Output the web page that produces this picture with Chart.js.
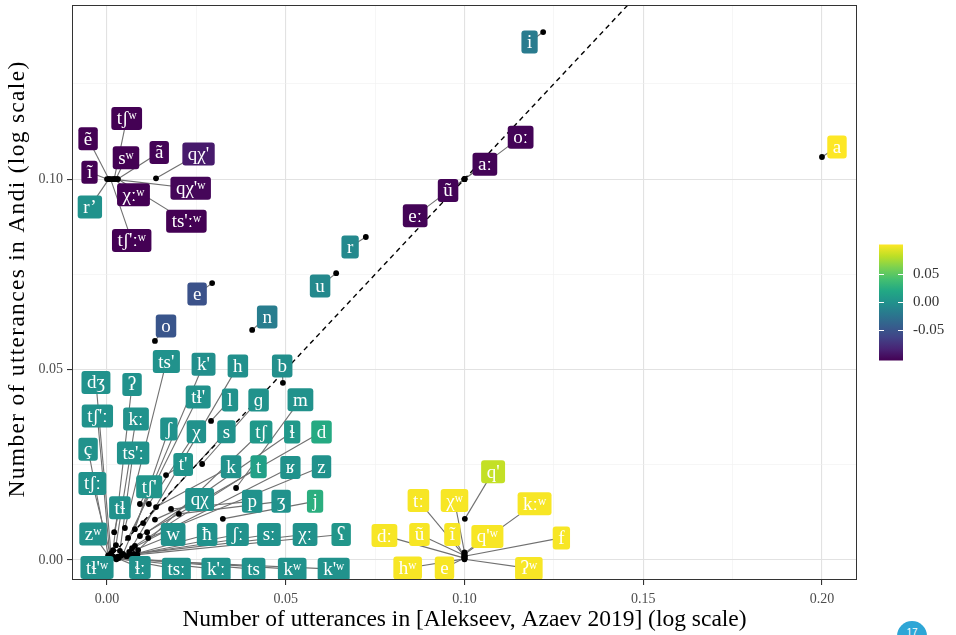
<!DOCTYPE html>
<html>
<head>
<meta charset="utf-8">
<script src="https://cdn.jsdelivr.net/npm/chart.js@4.4.0/dist/chart.umd.min.js"></script>
<style>
  html, body { margin: 0; padding: 0; background: #fff; overflow: hidden; }
  #wrap { position: relative; width: 956px; height: 635px; overflow: hidden; }
  #badge { position: absolute; left: 897px; top: 621px; width: 30px; height: 30px; border-radius: 50%;
           background: #2ea6d6; color: #fff; font: 10px 'Liberation Sans', sans-serif; text-align: center; line-height: 24px; }
</style>
</head>
<body>
<div id="wrap">
  <canvas id="c" width="956" height="635"></canvas>
  <div id="badge">17</div>
</div>
<script>
// Phone labels
const phones = [
  'tʃʷ', 'ẽ', 'sʷ', 'ã', "qχ'", 'ĩ', "qχ'ʷ", 'χːʷ', 'r’', "ts'ːʷ", "tʃ'ːʷ",
  'oː', 'aː', 'ũ', 'eː', 'i', 'a', 'r', 'u', 'e', 'n', 'o',
  "q'", 'tː', 'χʷ', 'kːʷ', 'dː', 'ũ', 'ĩ', "q'ʷ", 'f', 'hʷ', 'e', 'ʔʷ',
  "ts'", "k'", 'h', 'b', "tɬ'", 'l', 'ɡ', 'm', 'ʃ', 'χ', 's', 'tʃ', 'ɬ', 'd',
  "t'", 'k', 't', 'ʁ', 'z', 'qχ', 'p', 'ʒ', 'j', 'w', 'ħ', 'ʃː', 'sː', 'χː', 'ʕ',
  'tsː', "k'ː", 'ts', 'kʷ', "k'ʷ", 'dʒ', 'ʔ', "tʃ'ː", 'kː', 'ç', "ts'ː", 'tʃː',
  "tʃ'", 'tɬ', 'zʷ', "tɬ'ʷ", 'ɬː'
];

// Share of utterances in [Alekseev, Azaev 2019]
const corpusFreq = [
  0.0020, 0.0005, 0.0025, 0.0030, 0.0137, 0.0000, 0.0015, 0.0020, 0.0005, 0.0030, 0.0010,
  0.1000, 0.1000, 0.1000, 0.1000, 0.1220, 0.2000, 0.0724, 0.0641, 0.0294, 0.0406, 0.0134,
  0.1001, 0.1000, 0.1000, 0.1000, 0.1000, 0.1000, 0.1000, 0.1000, 0.1000, 0.1000, 0.1000, 0.1000,
  0.0050, 0.0045, 0.0062, 0.0492, 0.0059, 0.0291, 0.0266, 0.0361, 0.0078, 0.0117, 0.0101, 0.0087, 0.0112, 0.0092,
  0.0165, 0.0137, 0.0078, 0.0070, 0.0115, 0.0134, 0.0179, 0.0201, 0.0324, 0.0040, 0.0055, 0.0065, 0.0030, 0.0075, 0.0085,
  0.0022, 0.0028, 0.0018, 0.0033, 0.0026, 0.0011, 0.0017, 0.0008, 0.0025, 0.0005, 0.0036, 0.0012,
  0.0092, 0.0020, 0.0003, 0.0002, 0.0015
];

// Share of utterances in Andi
const andiFreq = [
  0.1000, 0.1000, 0.1000, 0.1000, 0.1002, 0.1000, 0.1000, 0.1000, 0.1000, 0.1000, 0.1000,
  0.1000, 0.1000, 0.1000, 0.1000, 0.1386, 0.1058, 0.0848, 0.0753, 0.0727, 0.0604, 0.0575,
  0.0108, 0.0010, 0.0020, 0.0015, 0.0005, 0.0012, 0.0008, 0.0018, 0.0010, 0.0003, 0.0005, 0.0002,
  0.0084, 0.0016, 0.0021, 0.0465, 0.0058, 0.0365, 0.0252, 0.0189, 0.0081, 0.0147, 0.0097, 0.0026, 0.0073, 0.0063,
  0.0223, 0.0139, 0.0037, 0.0031, 0.0058, 0.0106, 0.0134, 0.0121, 0.0108, 0.0012, 0.0010, 0.0013, 0.0009, 0.0016, 0.0014,
  0.0006, 0.0004, 0.0008, 0.0005, 0.0002, 0.0018, 0.0026, 0.0008, 0.0039, 0.0005, 0.0024, 0.0004,
  0.0147, 0.0073, 0.0012, 0.0002, 0.0010
];

// Difference value mapped to the colour scale
const colourValue = [
  -0.105, -0.105, -0.105, -0.104, -0.090, -0.105, -0.102, -0.105, 0.000, -0.105, -0.105,
  -0.103, -0.103, -0.103, -0.103, -0.019, 0.104, -0.007, -0.007, -0.052, -0.017, -0.050,
  0.085, 0.102, 0.102, 0.102, 0.102, 0.102, 0.102, 0.102, 0.102, 0.102, 0.102, 0.102,
  0.000, -0.002, -0.001, -0.002, 0.000, 0.000, 0.000, 0.000, 0.000, 0.000, 0.000, 0.006, 0.006, 0.022,
  0.002, 0.000, 0.013, 0.000, 0.000, 0.000, 0.000, 0.000, 0.026, 0.000, 0.000, 0.000, 0.000, 0.000, 0.004,
  0.000, 0.000, 0.000, 0.000, 0.000, 0.000, 0.000, 0.000, 0.000, 0.000, 0.000, 0.000,
  0.003, 0.000, 0.000, 0.000, 0.000
];

// Repelled label anchors (data units)
const labelX = [
  0.0055, -0.0053, 0.0053, 0.0146, 0.0256, -0.0049, 0.0234, 0.0074, -0.0048, 0.0222, 0.0069,
  0.1157, 0.1057, 0.0954, 0.0862, 0.1182, 0.2042, 0.0680, 0.0596, 0.0252, 0.0448, 0.0165,
  0.1080, 0.0871, 0.0972, 0.1196, 0.0776, 0.0874, 0.0966, 0.1064, 0.1271, 0.0841, 0.0944, 0.1180,
  0.0166, 0.0270, 0.0366, 0.0490, 0.0255, 0.0344, 0.0424, 0.0541, 0.0173, 0.0250, 0.0334, 0.0431, 0.0518, 0.0600,
  0.0213, 0.0347, 0.0424, 0.0513, 0.0600, 0.0259, 0.0406, 0.0487, 0.0582, 0.0185, 0.0280, 0.0365, 0.0453, 0.0554, 0.0655,
  0.0194, 0.0305, 0.0410, 0.0518, 0.0634, -0.0031, 0.0070, -0.0027, 0.0081, -0.0053, 0.0073, -0.0041,
  0.0118, 0.0036, -0.0039, -0.0028, 0.0092
];
const labelY = [
  0.1159, 0.1106, 0.1056, 0.1070, 0.1066, 0.1018, 0.0976, 0.0959, 0.0927, 0.0889, 0.0839,
  0.1110, 0.1039, 0.0970, 0.0904, 0.1360, 0.1084, 0.0822, 0.0719, 0.0698, 0.0638, 0.0614,
  0.0232, 0.0156, 0.0156, 0.0148, 0.0064, 0.0067, 0.0067, 0.0062, 0.0058, -0.0021, -0.0021, -0.0022,
  0.0521, 0.0514, 0.0509, 0.0509, 0.0428, 0.0420, 0.0420, 0.0421, 0.0344, 0.0337, 0.0337, 0.0336, 0.0336, 0.0336,
  0.0251, 0.0245, 0.0245, 0.0243, 0.0245, 0.0159, 0.0154, 0.0154, 0.0154, 0.0067, 0.0067, 0.0067, 0.0067, 0.0067, 0.0067,
  -0.0024, -0.0024, -0.0024, -0.0024, -0.0024, 0.0466, 0.0461, 0.0378, 0.0370, 0.0291, 0.0281, 0.0201,
  0.0192, 0.0137, 0.0068, -0.0020, -0.0020
];

// Axes
const xRange = [-0.0098, 0.2098];
const yRange = [-0.00525, 0.1457];
const xTicks = [0, 0.025, 0.05, 0.075, 0.1, 0.125, 0.15, 0.175, 0.2];
const yTicks = [0, 0.025, 0.05, 0.075, 0.1, 0.125];
const colourRange = [-0.105, 0.104];
const colourTicks = [0.05, 0.00, -0.05];
const colourTickLabels = ['0.05', '0.00', '-0.05'];
const xTitle = 'Number of utterances in [Alekseev, Azaev 2019] (log scale)';
const yTitle = 'Number of utterances in Andi (log scale)';

const SERIF = "'Liberation Serif', 'DejaVu Serif', serif";

const viridisStops = ['#440154', '#482475', '#414487', '#355f8d', '#2a788e', '#21918c',
                      '#22a884', '#44bf70', '#7ad151', '#bddf26', '#fde725'];
function hexToRgb(h) { return [1, 3, 5].map(k => parseInt(h.substr(k, 2), 16)); }
function viridis(t) {
  t = Math.max(0, Math.min(1, t));
  const s = t * (viridisStops.length - 1);
  const i = Math.min(Math.floor(s), viridisStops.length - 2);
  const f = s - i;
  const a = hexToRgb(viridisStops[i]), b = hexToRgb(viridisStops[i + 1]);
  const c = a.map((v, k) => Math.round(v + (b[k] - v) * f));
  return `rgb(${c[0]},${c[1]},${c[2]})`;
}
function colourFor(v) { return viridis((v - colourRange[0]) / (colourRange[1] - colourRange[0])); }

const isMajor = v => Math.abs(v / 0.05 - Math.round(v / 0.05)) < 1e-6;

const gridStyle = {
  color: c => isMajor(c.tick.value) ? '#e2e2e2' : '#f0f0f0',
  lineWidth: c => isMajor(c.tick.value) ? 1.1 : 0.6,
  tickColor: c => isMajor(c.tick.value) ? '#333333' : 'rgba(0,0,0,0)',
  tickLength: 5,
  drawTicks: true
};

function noEdgePadding(s) {
  s.paddingTop = 0; s.paddingBottom = 0; s.paddingLeft = 0; s.paddingRight = 0;
}

// Leader segments, label boxes, panel frame, y title and colour bar
const phoneLabels = {
  id: 'phoneLabels',
  beforeDatasetsDraw(chart) {
    const { ctx, chartArea: a, scales: { x, y } } = chart;
    ctx.save();
    ctx.beginPath();
    ctx.rect(a.left, a.top, a.right - a.left, a.bottom - a.top);
    ctx.clip();
    ctx.strokeStyle = '#707070';
    ctx.lineWidth = 1.1;
    phones.forEach((p, i) => {
      ctx.beginPath();
      ctx.moveTo(x.getPixelForValue(corpusFreq[i]), y.getPixelForValue(andiFreq[i]));
      ctx.lineTo(x.getPixelForValue(labelX[i]), y.getPixelForValue(labelY[i]));
      ctx.stroke();
    });
    ctx.restore();
  },
  afterDatasetsDraw(chart) {
    const { ctx, chartArea: a, scales: { x, y } } = chart;
    ctx.save();
    ctx.beginPath();
    ctx.rect(a.left, a.top, a.right - a.left, a.bottom - a.top);
    ctx.clip();
    ctx.font = `19px ${SERIF}`;
    ctx.textAlign = 'center';
    ctx.textBaseline = 'middle';
    phones.forEach((p, i) => {
      const cx = x.getPixelForValue(labelX[i]);
      const cy = y.getPixelForValue(labelY[i]);
      const w = ctx.measureText(p).width + 11;
      const h = 23;
      ctx.fillStyle = colourFor(colourValue[i]);
      ctx.beginPath();
      ctx.roundRect(cx - w / 2, cy - h / 2, w, h, 3);
      ctx.fill();
      ctx.fillStyle = '#ffffff';
      ctx.fillText(p, cx, cy + 1);
    });
    ctx.restore();
  },
  afterDraw(chart) {
    const { ctx, chartArea: a } = chart;
    ctx.save();
    ctx.strokeStyle = '#333333';
    ctx.lineWidth = 1;
    ctx.strokeRect(a.left + 0.5, a.top + 0.5, a.right - a.left - 1, a.bottom - a.top - 1);

    // y axis title
    ctx.save();
    ctx.translate(18, 279);
    ctx.rotate(-Math.PI / 2);
    ctx.font = `23.5px ${SERIF}`;
    ctx.letterSpacing = '1.3px';
    ctx.fillStyle = '#000000';
    ctx.textAlign = 'center';
    ctx.textBaseline = 'middle';
    ctx.fillText(yTitle, 0, 0);
    ctx.restore();

    // colour bar
    const bx = a.right + 22, bw = 24, bh = 116;
    const by = (a.top + a.bottom) / 2 - 48;
    const g = ctx.createLinearGradient(0, by + bh, 0, by);
    viridisStops.forEach((c, k) => g.addColorStop(k / (viridisStops.length - 1), c));
    ctx.fillStyle = g;
    ctx.fillRect(bx, by, bw, bh);
    ctx.strokeStyle = '#ffffff';
    ctx.lineWidth = 1;
    ctx.font = `15px ${SERIF}`;
    ctx.fillStyle = '#333333';
    ctx.textAlign = 'left';
    ctx.textBaseline = 'middle';
    colourTicks.forEach((v, k) => {
      const ty = Math.round(by + (colourRange[1] - v) / (colourRange[1] - colourRange[0]) * bh) + 0.5;
      ctx.beginPath();
      ctx.moveTo(bx, ty); ctx.lineTo(bx + 5, ty);
      ctx.moveTo(bx + bw - 5, ty); ctx.lineTo(bx + bw, ty);
      ctx.stroke();
      ctx.fillText(colourTickLabels[k], bx + bw + 10, ty);
    });
    ctx.restore();
  }
};

const points = phones.map((p, i) => ({ x: corpusFreq[i], y: andiFreq[i] }));

new Chart(document.getElementById('c'), {
  type: 'scatter',
  data: {
    datasets: [
      {
        label: 'equal share',
        data: [{ x: -0.05, y: -0.05 }, { x: 0.3, y: 0.3 }],
        showLine: true,
        borderColor: '#000000',
        borderWidth: 1.4,
        borderDash: [5, 4],
        pointRadius: 0,
        order: 2
      },
      {
        label: 'phones',
        data: points,
        backgroundColor: '#000000',
        borderColor: '#000000',
        pointRadius: 2.9,
        borderWidth: 0,
        order: 1
      }
    ]
  },
  options: {
    responsive: false,
    animation: false,
    devicePixelRatio: 1,
    layout: { padding: { top: 5, right: 99, left: 0, bottom: 0 } },
    plugins: { legend: { display: false }, tooltip: { enabled: false } },
    scales: {
      x: {
        type: 'linear',
        min: xRange[0], max: xRange[1],
        afterBuildTicks: s => { s.ticks = xTicks.map(v => ({ value: v })); },
        afterFit: s => { s.height = 55; noEdgePadding(s); },
        ticks: {
          autoSkip: false, maxRotation: 0, padding: 6,
          color: '#4d4d4d', font: { family: SERIF, size: 14 },
          callback: v => isMajor(v) ? v.toFixed(2) : ''
        },
        grid: gridStyle,
        border: { display: false },
        title: {
          display: true,
          text: xTitle,
          color: '#000000',
          font: { family: SERIF, size: 23.5 },
          padding: { top: 0, bottom: 1 }
        }
      },
      y: {
        type: 'linear',
        min: yRange[0], max: yRange[1],
        afterBuildTicks: s => { s.ticks = yTicks.map(v => ({ value: v })); },
        afterFit: s => { s.width = 72; noEdgePadding(s); },
        ticks: {
          autoSkip: false, padding: 4,
          color: '#4d4d4d', font: { family: SERIF, size: 14 },
          callback: v => isMajor(v) ? v.toFixed(2) : ''
        },
        grid: gridStyle,
        border: { display: false },
        title: { display: false }
      }
    }
  },
  plugins: [phoneLabels]
});
</script>
</body>
</html>
